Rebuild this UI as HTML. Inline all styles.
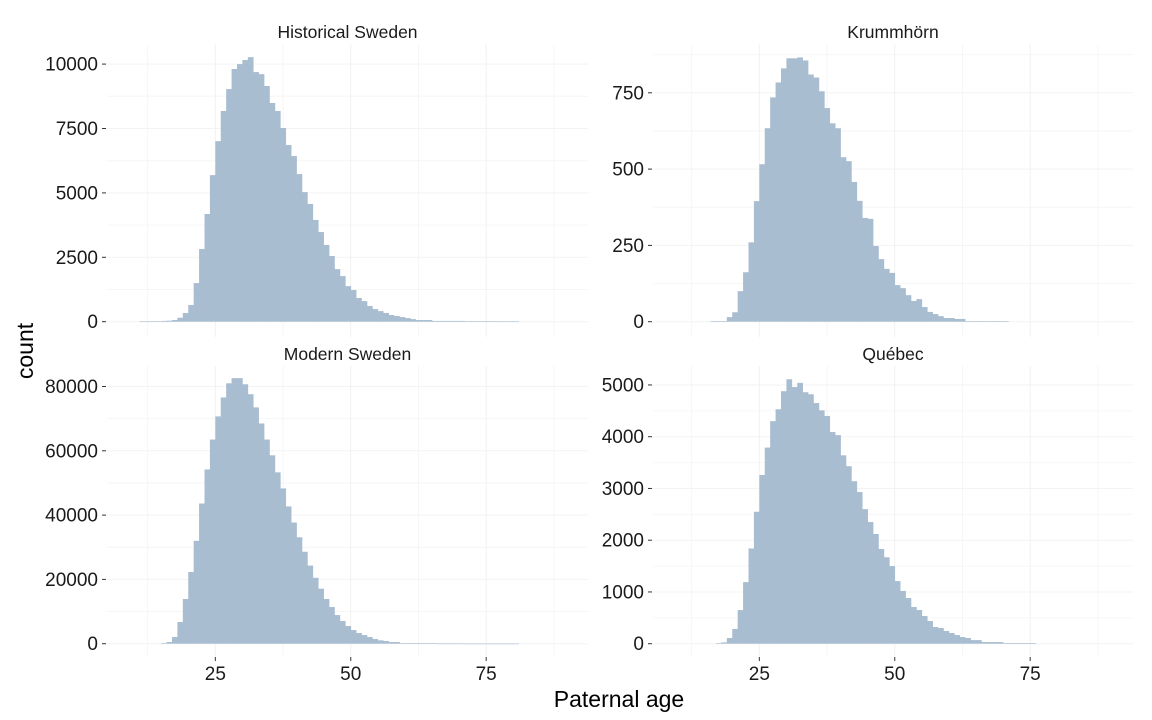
<!DOCTYPE html>
<html><head><meta charset="utf-8"><style>
html,body{margin:0;padding:0;background:#fff;}
svg{display:block;font-family:"Liberation Sans",Arial,sans-serif;}
</style></head><body>
<svg id="chart" width="1152" height="720"></svg>
<script>
const panelTitles = ["Historical Sweden","Krummhörn","Modern Sweden","Québec"];
const histSwedenAges = [11,12,13,14,15,16,17,18,19,20,21,22,23,24,25,26,27,28,29,30,31,32,33,34,35,36,37,38,39,40,41,42,43,44,45,46,47,48,49,50,51,52,53,54,55,56,57,58,59,60,61,62,63,64,65,66,67,68,69,70,71,72,73,74,75,76,77,78,79,80];
const histSwedenCounts = [10,10,15,20,30,40,65,155,336,647,1500,2820,4180,5690,7010,8180,9030,9810,10000,10160,10270,9690,9610,9150,8490,8180,7520,6860,6430,5730,5030,4570,3950,3480,2980,2550,2040,1770,1380,1230,920,800,610,490,410,340,260,220,180,140,100,65,65,65,30,30,30,30,30,30,15,15,15,15,15,15,10,10,10,10];
const krumAges = [16,17,18,19,20,21,22,23,24,25,26,27,28,29,30,31,32,33,34,35,36,37,38,39,40,41,42,43,44,45,46,47,48,49,50,51,52,53,54,55,56,57,58,59,60,61,62,63,64,65,66,67,68,69,70];
const krumCounts = [2,2,2,15,31,100,162,260,395,516,634,735,784,830,863,863,866,856,810,800,755,700,650,634,539,526,458,396,340,337,248,205,173,160,120,110,87,68,74,48,32,25,18,12,12,9,9,2,2,2,1,1,2,1,1];
const modernAges = [15,16,17,18,19,20,21,22,23,24,25,26,27,28,29,30,31,32,33,34,35,36,37,38,39,40,41,42,43,44,45,46,47,48,49,50,51,52,53,54,55,56,57,58,59,60,61,62,63,64,65,66,67,68,69,70,71,72,73,74,75,76,77,78,79,80];
const modernCounts = [200,520,2070,6740,13900,22300,32000,43600,54200,63500,70700,76600,81000,82600,82600,80700,77600,73500,68500,63500,58600,53300,48300,42700,37700,33100,28600,24300,20500,17100,13900,11400,8900,7050,5500,4250,3320,2700,2070,1450,1040,830,520,520,200,200,200,200,200,200,200,60,60,60,60,60,30,30,30,30,30,30,30,30,30,30];
const quebecAges = [17,18,19,20,21,22,23,24,25,26,27,28,29,30,31,32,33,34,35,36,37,38,39,40,41,42,43,44,45,46,47,48,49,50,51,52,53,54,55,56,57,58,59,60,61,62,63,64,65,66,67,68,69,70,71,72,73,74,75];
const quebecCounts = [6,26,110,284,650,1190,1840,2550,3260,3790,4300,4530,4880,5110,4960,5040,4860,4820,4650,4510,4400,4090,4030,3640,3430,3140,2930,2600,2350,2120,1830,1670,1500,1210,1020,882,709,651,535,438,322,303,245,206,167,129,110,70,70,32,32,32,32,13,13,13,13,13,13];
const yTicks0 = [0,2500,5000,7500,10000];
const yTicks1 = [0,250,500,750];
const yTicks2 = [0,20000,40000,60000,80000];
const yTicks3 = [0,1000,2000,3000,4000,5000];
const yMinor0 = [1250,3750,6250,8750];
const yMinor1 = [125,375,625,875];
const yMinor2 = [10000,30000,50000,70000];
const yMinor3 = [500,1500,2500,3500,4500];
const xTicks = [25,50,75];
const xMinor = [12.5,37.5,62.5,87.5];

const NS="http://www.w3.org/2000/svg";
const svg=document.getElementById('chart');
function mk(tag,attrs,parent){const e=document.createElementNS(NS,tag);for(const k in attrs)e.setAttribute(k,attrs[k]);(parent||svg).appendChild(e);return e;}

const panels=[
 {title:panelTitles[0],ages:histSwedenAges,counts:histSwedenCounts,ticks:yTicks0,minor:yMinor0,x0:107,x1:588,y0:44,y1:337,xo:79.9,base:321.7,pxPer:64.4/2500,showX:false,name:'historical-sweden'},
 {title:panelTitles[1],ages:krumAges,counts:krumCounts,ticks:yTicks1,minor:yMinor1,x0:653,x1:1133,y0:44,y1:337,xo:623.9,base:321.7,pxPer:76.3/250,showX:false,name:'krummhorn'},
 {title:panelTitles[2],ages:modernAges,counts:modernCounts,ticks:yTicks2,minor:yMinor2,x0:107,x1:588,y0:366,y1:657,xo:79.9,base:643.7,pxPer:64.3/20000,showX:true,name:'modern-sweden'},
 {title:panelTitles[3],ages:quebecAges,counts:quebecCounts,ticks:yTicks3,minor:yMinor3,x0:653,x1:1133,y0:366,y1:657,xo:623.9,base:643.7,pxPer:51.75/1000,showX:true,name:'quebec'}
];
const pxYear=5.417;
panels.forEach(p=>{
  const g=mk('g',{});
  
  
  const X=a=>p.xo+a*pxYear;
  const Y=v=>p.base-v*p.pxPer;
  p.minor.forEach(v=>mk('line',{x1:p.x0,x2:p.x1,y1:Y(v),y2:Y(v),stroke:'#f6f6f6','stroke-width':1},g));
  p.ticks.forEach(v=>mk('line',{x1:p.x0,x2:p.x1,y1:Y(v),y2:Y(v),stroke:'#f3f3f3','stroke-width':1},g));
  xMinor.forEach(v=>mk('line',{x1:X(v),x2:X(v),y1:p.y0,y2:p.y1,stroke:'#f6f6f6','stroke-width':1},g));
  xTicks.forEach(v=>mk('line',{x1:X(v),x2:X(v),y1:p.y0,y2:p.y1,stroke:'#f1f1f1','stroke-width':1},g));
  p.ages.forEach((a,i)=>{
    const h=p.counts[i]*p.pxPer;
    const r=mk('rect',{x:X(a),y:p.base-h,width:pxYear+0.3,height:Math.max(h,0.6),fill:'#a9bdd0'},g);
    
    
  });
  const t=mk('text',{x:(p.x0+p.x1)/2,y:p.y0-6,'text-anchor':'middle','font-size':17.5,fill:'#1a1a1a'},g);
  t.textContent=p.title;
  
  
  p.ticks.forEach(v=>{
    mk('line',{x1:p.x0-5,x2:p.x0-1,y1:Y(v),y2:Y(v),stroke:'#333','stroke-width':1},g);
    const tl=mk('text',{x:p.x0-9,y:Y(v)+6.5,'text-anchor':'end','font-size':19,fill:'#1a1a1a'},g);
    tl.textContent=v;
    
    
  });
  if(p.showX){
    xTicks.forEach(v=>{
      mk('line',{x1:X(v),x2:X(v),y1:p.y1,y2:p.y1+4,stroke:'#333','stroke-width':1},g);
      const tl=mk('text',{x:X(v),y:p.y1+23,'text-anchor':'middle','font-size':19,fill:'#1a1a1a'},g);
      tl.textContent=v;
      
      
    });
  }
});
const xt=mk('text',{x:619,y:707,'text-anchor':'middle','font-size':23,fill:'#000'});
xt.textContent='Paternal age';


const yt=mk('text',{x:0,y:0,'text-anchor':'middle','font-size':23,fill:'#000',transform:'translate(33,351) rotate(-90)'});
yt.textContent='count';


</script>
</body></html>
